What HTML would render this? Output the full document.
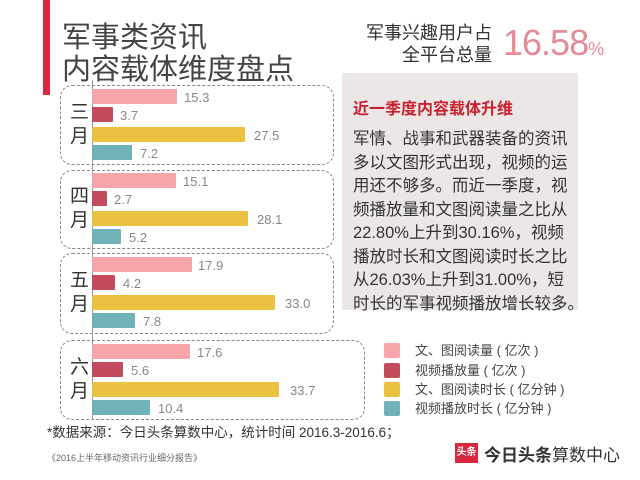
<!DOCTYPE html>
<html><head><meta charset="utf-8"><style>
body{margin:0;width:640px;height:480px;background:#fff;position:relative;overflow:hidden;font-family:"Liberation Sans","Noto Sans CJK SC",sans-serif;color:#333}
.a{position:absolute;white-space:nowrap}
.bar{position:absolute;height:15px;left:92px;border-radius:1px}
.v{position:absolute;font-size:13px;color:#888;line-height:15px}
.box{position:absolute;border:1.5px dashed #888;border-radius:12px}
.m{position:absolute;left:70px;font-size:19px;line-height:24px;color:#333;width:20px}
.sq{position:absolute;left:384px;width:16px;height:15px;border-radius:2px}
.lg{position:absolute;left:415px;font-size:13px;color:#444;line-height:15px}
</style></head><body>
<div class="a" style="left:43px;top:0;width:7px;height:95px;background:#d8283f"></div>
<div class="a" style="left:62px;top:22px;font-size:29px;line-height:32px;color:#444">军事类资讯<br>内容载体维度盘点</div>
<div class="a" style="left:340px;top:22px;width:152px;text-align:right;font-size:18px;line-height:22px;color:#333">军事兴趣用户占<br>全平台总量</div>
<div class="a" style="left:503px;top:22px;font-size:36px;font-weight:normal;color:#e58a96;letter-spacing:-1px">16.58<span style="font-size:18px">%</span></div>

<div class="a" style="left:342px;top:73px;width:236px;height:237px;background:#ece7e7"></div>
<div class="a" style="left:353px;top:95px;font-size:16px;font-weight:bold;color:#c8202e">近一季度内容载体升维</div>
<div class="a" style="left:353px;top:128px;font-size:16.5px;line-height:23.5px;color:#333">军情、战事和武器装备的资讯<br>多以文图形式出现，视频的运<br>用还不够多。而近一季度，视<br>频播放量和文图阅读量之比从<br>22.80%上升到30.16%，视频<br>播放时长和文图阅读时长之比<br>从26.03%上升到31.00%，短<br>时长的军事视频播放增长较多。</div>

<div class="box" style="left:60px;top:85px;width:272px;height:78px"></div>
<div class="box" style="left:60px;top:170px;width:272px;height:77px"></div>
<div class="box" style="left:60px;top:253px;width:272px;height:79px"></div>
<div class="box" style="left:60px;top:340px;width:303px;height:78px"></div>
<div class="a" style="left:92px;top:80px;width:1px;height:340px;background:#999"></div>

<div class="m" style="top:101px">三<br>月</div>
<div class="m" style="top:185px">四<br>月</div>
<div class="m" style="top:269px">五<br>月</div>
<div class="m" style="top:356px">六<br>月</div>

<div class="bar" style="top:89px;width:85px;background:#f7a5aa"></div><div class="v" style="left:184px;top:90px">15.3</div>
<div class="bar" style="top:107px;width:21px;background:#c44a5e"></div><div class="v" style="left:120px;top:108px">3.7</div>
<div class="bar" style="top:127px;width:153px;background:#ebc140"></div><div class="v" style="left:254px;top:128px">27.5</div>
<div class="bar" style="top:145px;width:40px;background:#6fb2b8"></div><div class="v" style="left:140px;top:146px">7.2</div>

<div class="bar" style="top:173px;width:84px;background:#f7a5aa"></div><div class="v" style="left:183px;top:174px">15.1</div>
<div class="bar" style="top:191px;width:15px;background:#c44a5e"></div><div class="v" style="left:114px;top:192px">2.7</div>
<div class="bar" style="top:211px;width:156px;background:#ebc140"></div><div class="v" style="left:257px;top:212px">28.1</div>
<div class="bar" style="top:229px;width:29px;background:#6fb2b8"></div><div class="v" style="left:129px;top:230px">5.2</div>

<div class="bar" style="top:257px;width:100px;background:#f7a5aa"></div><div class="v" style="left:198px;top:258px">17.9</div>
<div class="bar" style="top:275px;width:23px;background:#c44a5e"></div><div class="v" style="left:123px;top:276px">4.2</div>
<div class="bar" style="top:295px;width:183px;background:#ebc140"></div><div class="v" style="left:285px;top:296px">33.0</div>
<div class="bar" style="top:313px;width:43px;background:#6fb2b8"></div><div class="v" style="left:143px;top:314px">7.8</div>

<div class="bar" style="top:344px;width:98px;background:#f7a5aa"></div><div class="v" style="left:197px;top:345px">17.6</div>
<div class="bar" style="top:362px;width:31px;background:#c44a5e"></div><div class="v" style="left:131px;top:363px">5.6</div>
<div class="bar" style="top:382px;width:187px;background:#ebc140"></div><div class="v" style="left:290px;top:383px">33.7</div>
<div class="bar" style="top:400px;width:58px;background:#6fb2b8"></div><div class="v" style="left:158px;top:401px">10.4</div>

<div class="sq" style="top:343px;background:#f7a5aa"></div><div class="lg" style="top:343px">文、图阅读量 ( 亿次 )</div>
<div class="sq" style="top:363px;background:#c44a5e"></div><div class="lg" style="top:363px">视频播放量 ( 亿次 )</div>
<div class="sq" style="top:382px;background:#ebc140"></div><div class="lg" style="top:382px">文、图阅读时长 ( 亿分钟 )</div>
<div class="sq" style="top:401px;background:#6fb2b8"></div><div class="lg" style="top:401px">视频播放时长 ( 亿分钟 )</div>

<div class="a" style="left:47px;top:421px;font-size:13.5px;color:#333">*数据来源：今日头条算数中心，统计时间 2016.3-2016.6；</div>
<div class="a" style="left:47px;top:451px;font-size:9px;color:#666">《2016上半年移动资讯行业细分报告》</div>
<div class="a" style="left:455px;top:443px;width:23px;height:20px;background:#d8283f;color:#fff;font-size:10px;font-weight:bold;line-height:20px;text-align:center">头条</div>
<div class="a" style="left:484px;top:441px;font-size:17px;color:#333;font-weight:bold">今日头条<span style="font-weight:normal">算数中心</span></div>
</body></html>
